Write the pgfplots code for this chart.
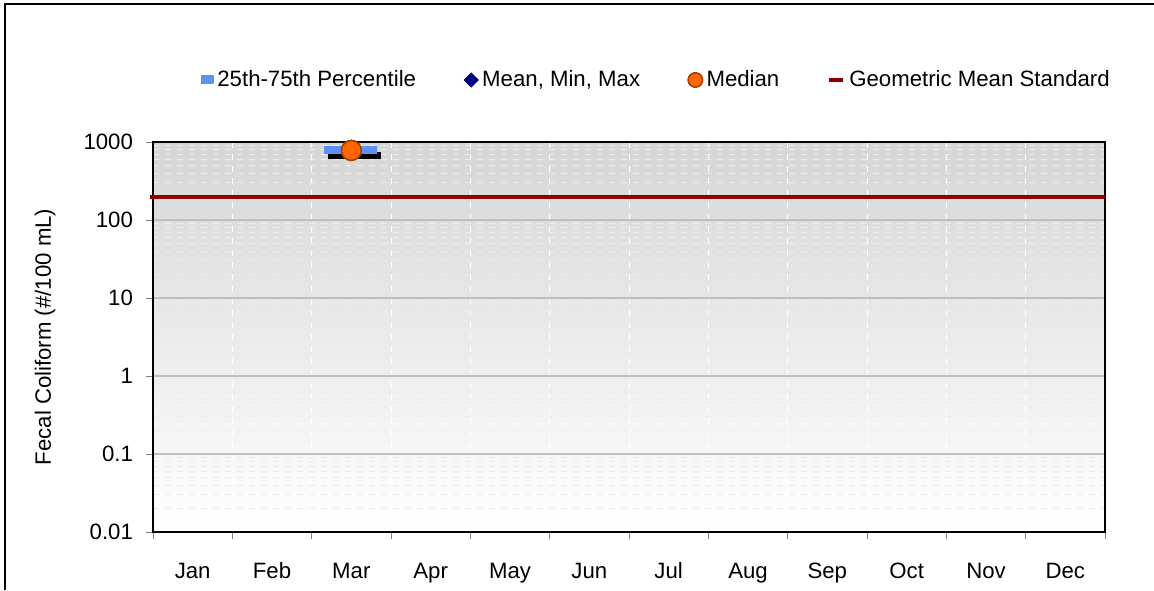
\documentclass[border=0pt]{standalone}
\usepackage{pgfplots}
\pgfplotsset{compat=1.18}
\usepackage{fontspec}
\setmainfont{Liberation Sans}

\definecolor{bgtop}{RGB}{214,214,214}
\definecolor{majgrid}{RGB}{190,190,190}
\definecolor{mingrid}{RGB}{236,236,236}
\definecolor{boxtop}{RGB}{95,145,245}
\definecolor{boxmid}{RGB}{175,210,255}
\definecolor{meannavy}{RGB}{0,0,128}
\definecolor{medorange}{RGB}{255,102,0}
\definecolor{mededge}{RGB}{160,64,0}
\definecolor{stdred}{RGB}{140,0,0}

\begin{document}
\begin{tikzpicture}[font=\fontsize{11.1}{13.3}\selectfont]
\useasboundingbox (-76.5pt,-29pt) rectangle (500.5pt,266pt);
\begin{axis}[
  at={(0,0)}, anchor=south west,
  scale only axis, width=476pt, height=195pt,
  /pgf/number format/assume math mode=true,
  clip=false,
  ymode=log, ymin=0.01, ymax=1000,
  xmin=0, xmax=12,
  xtick={0.5,1.5,...,11.5},
  xticklabels={Jan,Feb,Mar,Apr,May,Jun,Jul,Aug,Sep,Oct,Nov,Dec},
  minor xtick={0,1,...,12},
  ytick={0.01,0.1,1,10,100,1000},
  yticklabels={0.01,0.1,1,10,100,1000},
  xtick pos=bottom, ytick pos=left,
  tick align=outside,
  major tick length=3.5pt, minor tick length=3.5pt,
  major x tick style={draw=none},
  minor y tick style={draw=none},
  xminorgrids=true, ymajorgrids=true, yminorgrids=true,
  minor x grid style={white, dashed, line width=0.5pt},
  major y grid style={majgrid, line width=0.8pt},
  minor y grid style={mingrid, dashed, line width=0.4pt},
  axis background/.style={top color=bgtop, bottom color=white},
  axis line style={black, line width=0.6pt},
  xticklabel style={anchor=base, yshift=-19.6pt},
  yticklabel style={xshift=-3pt},
  ylabel={Fecal Coliform (\#/100 mL)},
  ylabel style={at={(axis description cs:-0.1134,0.5)}, anchor=center},
  legend style={at={(0.53,1.159)}, anchor=center, draw=none, fill=none,
    legend columns=-1,
    /tikz/every even column/.append style={column sep=22pt}},
]
% shadow of the 25th-75th box
\addplot[draw=none, fill=black, xshift=2.2pt, yshift=-2.6pt, forget plot]
  coordinates {(2.156,716) (2.824,716) (2.824,870) (2.156,870)} -- cycle;
% 25th-75th percentile box (Mar)
\addplot[draw=none, top color=boxtop, middle color=boxmid, bottom color=boxtop,
  legend image code/.code={\fill[top color=boxtop, middle color=boxmid, bottom color=boxtop] (0pt,-2pt) rectangle (6pt,2pt);}]
  coordinates {(2.156,716) (2.824,716) (2.824,870) (2.156,870)} -- cycle;
\addlegendentry{25th-75th Percentile}
% mean, min, max
\addplot[only marks, mark=square*, mark options={rotate=45}, mark size=3.4pt, color=meannavy,
  legend image post style={mark size=2.5pt}]
  coordinates {(2.5,780) (2.5,770) (2.5,790)};
\addlegendentry{Mean, Min, Max}
% median
\addplot[only marks, mark=*, mark size=5pt, draw=mededge, fill=medorange, line width=0.8pt,
  legend image post style={mark size=3.6pt}]
  coordinates {(2.5,780)};
\addlegendentry{Median}
% geometric mean standard
\addplot[stdred, line width=2pt,
  legend image code/.code={\draw[stdred, line width=2pt] (0pt,0pt) -- (7pt,0pt);}]
  coordinates {(-0.04,200) (12,200)};
\addlegendentry{Geometric Mean Standard}
\end{axis}
\draw[line width=1pt] (-73.75pt,-29pt) -- (-73.75pt,264pt) -- (500.5pt,264pt);
\end{tikzpicture}
\end{document}
